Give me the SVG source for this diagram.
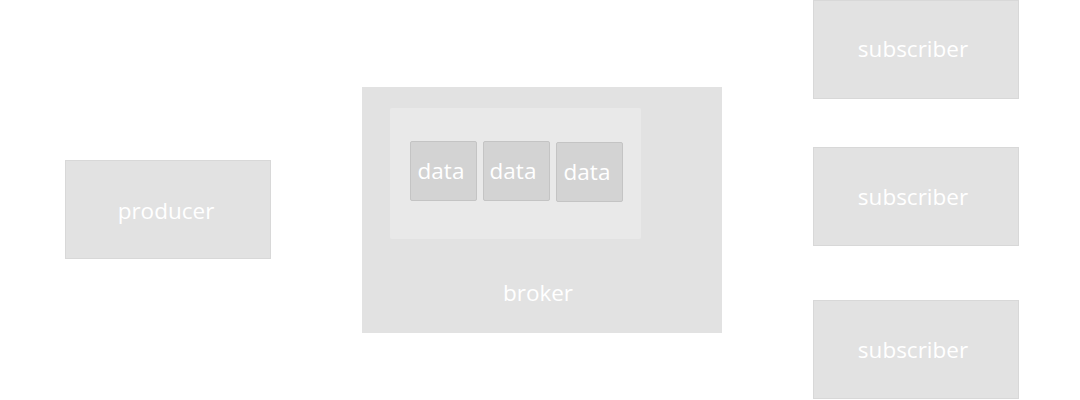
<svg xmlns="http://www.w3.org/2000/svg" width="1080" height="400" viewBox="0 0 1080 400">
<style>
.box{fill:#e2e2e2;stroke:#d8d8d8;stroke-width:1}
.plain{fill:#e2e2e2}
.inner{fill:#e9e9e9}
.data{fill:#d3d3d3;stroke:#c4c4c4;stroke-width:1}
.lbl{font-family:"Open Sans","Noto Sans","Liberation Sans",sans-serif;font-size:22.5px;fill:#ffffff;text-anchor:middle}
</style>
<rect width="1080" height="400" fill="#ffffff"/>
<g id="connectors"></g>
<g id="producer">
<rect class="box" x="65.5" y="160.5" width="205" height="98"/>
<text class="lbl" x="166" y="219">producer</text>
</g>
<g id="broker">
<rect class="plain" x="362" y="87" width="360" height="246"/>
<rect class="inner" x="390" y="108" width="251" height="131" rx="2"/>
<text class="lbl" x="538" y="301">broker</text>
</g>
<g id="data1">
<rect class="data" x="410.5" y="141.5" width="66" height="59" rx="1.5"/>
<text class="lbl" x="441" y="179">data</text>
</g>
<g id="data2">
<rect class="data" x="483.5" y="141.5" width="66" height="59" rx="1.5"/>
<text class="lbl" x="513" y="179">data</text>
</g>
<g id="data3">
<rect class="data" x="556.5" y="142.5" width="66" height="59" rx="1.5"/>
<text class="lbl" x="587" y="180">data</text>
</g>
<g id="subscriber1">
<rect class="box" x="813.5" y="0.5" width="205" height="98"/>
<text class="lbl" x="913" y="57">subscriber</text>
</g>
<g id="subscriber2">
<rect class="box" x="813.5" y="147.5" width="205" height="98"/>
<text class="lbl" x="913" y="205">subscriber</text>
</g>
<g id="subscriber3">
<rect class="box" x="813.5" y="300.5" width="205" height="98"/>
<text class="lbl" x="913" y="358">subscriber</text>
</g>
</svg>
